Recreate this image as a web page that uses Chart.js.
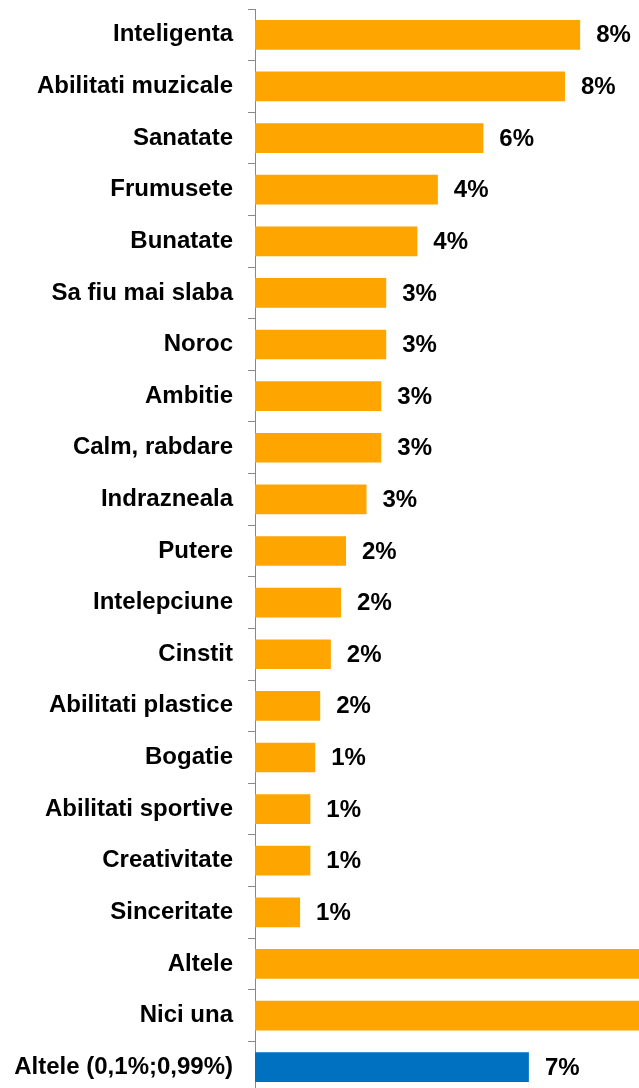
<!DOCTYPE html>
<html>
<head>
<meta charset="utf-8">
<script src="https://cdn.jsdelivr.net/npm/chart.js@4/dist/chart.umd.min.js"></script>
<style>
  html, body { margin: 0; padding: 0; background: #fff; overflow: hidden; }
  #wrap { position: relative; width: 639px; height: 1093px; }
</style>
</head>
<body>
<div id="wrap"><canvas id="calitatiChart"></canvas></div>
<script>
// Calitati dorite (%)
const categorii = [
    'Inteligenta', 'Abilitati muzicale', 'Sanatate', 'Frumusete', 'Bunatate',
    'Sa fiu mai slaba', 'Noroc', 'Ambitie', 'Calm, rabdare', 'Indrazneala',
    'Putere', 'Intelepciune', 'Cinstit', 'Abilitati plastice', 'Bogatie',
    'Abilitati sportive', 'Creativitate', 'Sinceritate', 'Altele', 'Nici una',
    'Altele (0,1%;0,99%)'
];
const procente = [
    7.93, 7.56, 5.57, 4.46, 3.96,
    3.20, 3.20, 3.08, 3.08, 2.72,
    2.22, 2.10, 1.85, 1.59, 1.47,
    1.35, 1.35, 1.10, 12.0, 11.0,
    6.68
];
const culori = categorii.map((c, i) => i === categorii.length - 1 ? '#0070C0' : '#FFA500');

const fontText = '"Liberation Sans", Arial, sans-serif';

// etichete cu valoarea rotunjita, la dreapta barei
const eticheteValori = {
    id: 'eticheteValori',
    afterDatasetsDraw(chart) {
        const ctx = chart.ctx;
        const meta = chart.getDatasetMeta(0);
        ctx.save();
        ctx.font = 'bold 24px ' + fontText;
        ctx.fillStyle = '#000';
        ctx.textAlign = 'left';
        ctx.textBaseline = 'middle';
        meta.data.forEach((bar, i) => {
            ctx.fillText(Math.round(procente[i]) + '%', bar.x + 16, bar.y + 1);
        });
        ctx.restore();
    }
};

const ctx = document.getElementById('calitatiChart').getContext('2d');
new Chart(ctx, {
    type: 'bar',
    data: {
        labels: categorii,
        datasets: [{
            data: procente,
            backgroundColor: culori,
            borderWidth: 0,
            barPercentage: 0.575,
            categoryPercentage: 1
        }]
    },
    options: {
        indexAxis: 'y',
        responsive: true,
        maintainAspectRatio: false,
        animation: false,
        layout: { padding: { top: 9, right: 0, bottom: 0, left: 0 } },
        plugins: {
            legend: { display: false },
            tooltip: { enabled: false }
        },
        scales: {
            x: {
                display: false,
                min: 0,
                max: 384 / 41
            },
            y: {
                afterFit(scale) {
                    scale.width = 255;
                    // fara spatiu suplimentar sus/jos pentru etichete
                    scale.paddingTop = 0;
                    scale.paddingBottom = 0;
                },
                grid: {
                    offset: true,
                    drawOnChartArea: false,
                    drawTicks: true,
                    tickLength: 7,
                    color: '#888'
                },
                border: { color: '#888', width: 1 },
                ticks: {
                    padding: 15,
                    color: '#000',
                    font: { family: fontText, size: 24, weight: 'bold' }
                }
            }
        }
    },
    plugins: [eticheteValori]
});
</script>
</body>
</html>
